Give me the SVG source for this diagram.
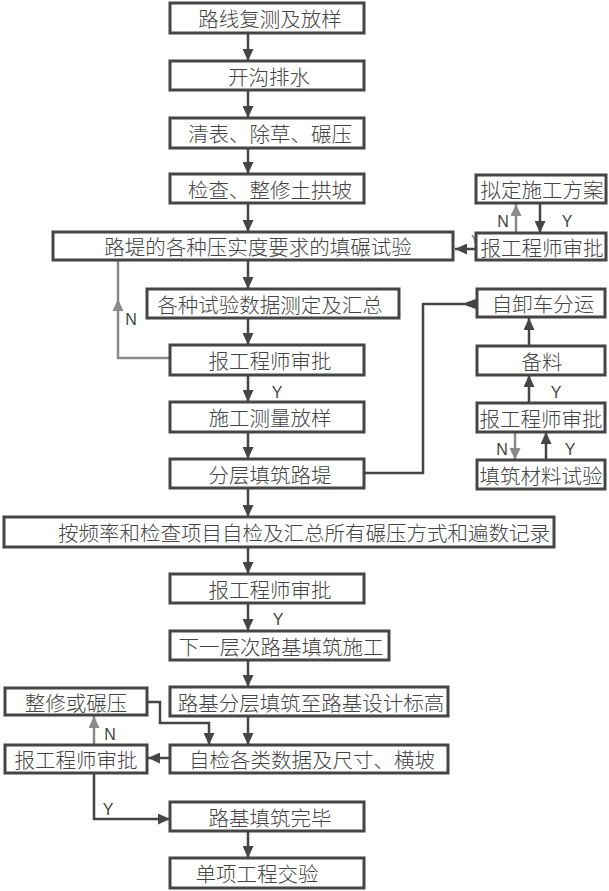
<svg xmlns="http://www.w3.org/2000/svg" width="609" height="891" viewBox="0 0 609 891">
<style>
.box{fill:#fff;stroke:#454545;stroke-width:3}
.t{font-family:"Noto Sans CJK SC","Noto Sans",sans-serif;font-size:20.5px;font-weight:300;fill:#444;text-anchor:middle}
.l{font-family:"Liberation Sans",Arial,sans-serif;font-size:16px;fill:#444;text-anchor:middle}
.c{fill:none;stroke:#454545;stroke-width:2.5}
.g{fill:none;stroke:#8a8a8a;stroke-width:2.5}
</style>
<defs>
<marker id="ad" markerUnits="userSpaceOnUse" markerWidth="12" markerHeight="11" refX="12" refY="5.5" orient="auto" viewBox="0 0 12 11"><path d="M0,0 L12,5.5 L0,11 z" fill="#454545"/></marker>
<marker id="ag" markerUnits="userSpaceOnUse" markerWidth="12" markerHeight="11" refX="12" refY="5.5" orient="auto" viewBox="0 0 12 11"><path d="M0,0 L12,5.5 L0,11 z" fill="#8a8a8a"/></marker>
</defs>
<rect width="609" height="891" fill="#fff"/>
<g id="connectors">
<line class="c" x1="248" y1="33" x2="248" y2="61" marker-end="url(#ad)"/>
<line class="c" x1="248" y1="90" x2="248" y2="118" marker-end="url(#ad)"/>
<line class="c" x1="248" y1="148" x2="248" y2="174" marker-end="url(#ad)"/>
<line class="c" x1="248" y1="203" x2="248" y2="232" marker-end="url(#ad)"/>
<line class="c" x1="248" y1="260" x2="248" y2="289" marker-end="url(#ad)"/>
<line class="c" x1="248" y1="318" x2="248" y2="345" marker-end="url(#ad)"/>
<line class="c" x1="248" y1="375" x2="248" y2="402" marker-end="url(#ad)"/>
<line class="c" x1="248" y1="432" x2="248" y2="459" marker-end="url(#ad)"/>
<line class="c" x1="248" y1="488" x2="248" y2="517" marker-end="url(#ad)"/>
<line class="c" x1="248" y1="547" x2="248" y2="574" marker-end="url(#ad)"/>
<line class="c" x1="248" y1="603" x2="248" y2="631" marker-end="url(#ad)"/>
<line class="c" x1="248" y1="660" x2="248" y2="687" marker-end="url(#ad)"/>
<line class="c" x1="248" y1="716" x2="248" y2="745" marker-end="url(#ad)"/>
<line class="c" x1="248" y1="831" x2="248" y2="858" marker-end="url(#ad)"/>
<line class="c" x1="476" y1="249" x2="455" y2="249" marker-end="url(#ad)"/>
<line class="g" x1="516" y1="233" x2="516" y2="204" marker-end="url(#ag)"/>
<line class="c" x1="540" y1="204" x2="540" y2="233" marker-end="url(#ad)"/>
<path class="g" d="M170,358 H118 V299" marker-end="url(#ag)"/>
<line class="g" x1="118" y1="299" x2="118" y2="260"/>
<path class="c" d="M364,473 H423 V304 H465"/>
<polygon points="462,304 477,298.5 477,309.5" fill="#454545"/>
<line class="c" x1="529" y1="346" x2="529" y2="318" marker-end="url(#ad)"/>
<line class="c" x1="529" y1="403" x2="529" y2="375" marker-end="url(#ad)"/>
<line class="g" x1="515" y1="432" x2="515" y2="460" marker-end="url(#ag)"/>
<line class="c" x1="546" y1="460" x2="546" y2="432" marker-end="url(#ad)"/>
<path class="c" d="M147,702 H160 V723 H209 V745" marker-end="url(#ad)"/>
<line class="c" x1="170" y1="758" x2="148" y2="758" marker-end="url(#ad)"/>
<line class="g" x1="94" y1="745" x2="94" y2="716" marker-end="url(#ag)"/>
<path class="c" d="M94,773 V819 H170" marker-end="url(#ad)"/>
</g>
<g id="labels">
<text class="l" x="503" y="227">N</text>
<text class="l" x="567" y="227">Y</text>
<text class="l" x="475" y="243" style="font-size:11px">Y</text>
<text class="l" x="131" y="325">N</text>
<text class="l" x="277" y="398">Y</text>
<text class="l" x="556" y="398">Y</text>
<text class="l" x="502" y="455">N</text>
<text class="l" x="570" y="455">Y</text>
<text class="l" x="278" y="625">Y</text>
<text class="l" x="110" y="740">N</text>
<text class="l" x="108" y="815">Y</text>
</g>
<g id="n1"><rect class="box" x="170" y="3" width="194" height="30"/><text class="t" x="270" y="27">路线复测及放样</text></g>
<g id="n2"><rect class="box" x="170" y="61" width="194" height="29"/><text class="t" x="269" y="85">开沟排水</text></g>
<g id="n3"><rect class="box" x="170" y="118" width="194" height="30"/><text class="t" x="270" y="142">清表、除草、碾压</text></g>
<g id="n4"><rect class="box" x="170" y="174" width="194" height="29"/><text class="t" x="270" y="198">检查、整修土拱坡</text></g>
<g id="n5"><rect class="box" x="53" y="232" width="400" height="28"/><text class="t" x="258" y="255">路堤的各种压实度要求的填碾试验</text></g>
<g id="r1"><rect class="box" x="476" y="175" width="130" height="28"/><text class="t" x="542" y="198">拟定施工方案</text></g>
<g id="r2"><rect class="box" x="476" y="233" width="130" height="27"/><text class="t" x="542" y="256">报工程师审批</text></g>
<g id="n6"><rect class="box" x="147" y="289" width="252" height="29"/><text class="t" x="270" y="313">各种试验数据测定及汇总</text></g>
<g id="n7"><rect class="box" x="170" y="345" width="194" height="30"/><text class="t" x="270" y="369">报工程师审批</text></g>
<g id="n8"><rect class="box" x="170" y="402" width="194" height="30"/><text class="t" x="270" y="426">施工测量放样</text></g>
<g id="n9"><rect class="box" x="170" y="459" width="194" height="29"/><text class="t" x="270" y="483">分层填筑路堤</text></g>
<g id="r3"><rect class="box" x="477" y="289" width="128" height="28"/><text class="t" x="543" y="312">自卸车分运</text></g>
<g id="r4"><rect class="box" x="477" y="346" width="128" height="29"/><text class="t" x="542" y="370">备料</text></g>
<g id="r5"><rect class="box" x="477" y="403" width="128" height="29"/><text class="t" x="541" y="427">报工程师审批</text></g>
<g id="r6"><rect class="box" x="477" y="460" width="128" height="29"/><text class="t" x="541" y="484">填筑材料试验</text></g>
<g id="n10"><rect class="box" x="4" y="517" width="550" height="30"/><text class="t" x="304" y="541">按频率和检查项目自检及汇总所有碾压方式和遍数记录</text></g>
<g id="n11"><rect class="box" x="170" y="574" width="194" height="29"/><text class="t" x="270" y="598">报工程师审批</text></g>
<g id="n12"><rect class="box" x="170" y="631" width="219" height="29"/><text class="t" x="281" y="655">下一层次路基填筑施工</text></g>
<g id="n13"><rect class="box" x="170" y="687" width="278" height="29"/><text class="t" x="311" y="711">路基分层填筑至路基设计标高</text></g>
<g id="n14"><rect class="box" x="5" y="688" width="142" height="27"/><text class="t" x="76" y="711">整修或碾压</text></g>
<g id="n15"><rect class="box" x="170" y="745" width="278" height="28"/><text class="t" x="312" y="768">自检各类数据及尺寸、横坡</text></g>
<g id="n16"><rect class="box" x="5" y="745" width="142" height="28"/><text class="t" x="76" y="768">报工程师审批</text></g>
<g id="n17"><rect class="box" x="170" y="802" width="194" height="29"/><text class="t" x="270" y="826">路基填筑完毕</text></g>
<g id="n18"><rect class="box" x="170" y="858" width="194" height="30"/><text class="t" x="257" y="882">单项工程交验</text></g>
</svg>
